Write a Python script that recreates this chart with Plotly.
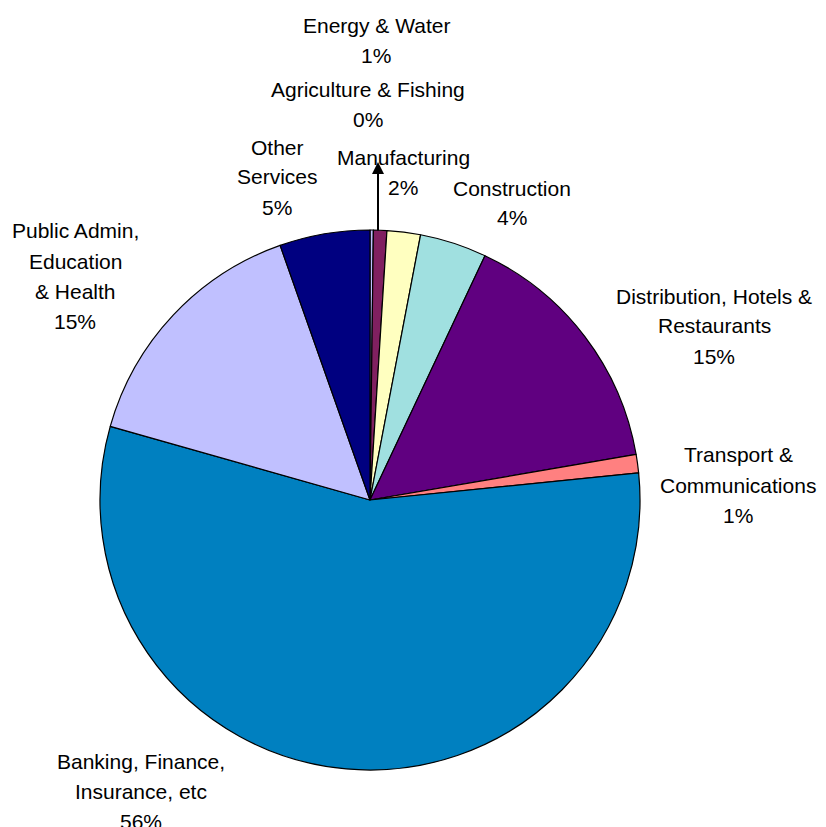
import plotly.graph_objects as go

OFF = 8  # page body margin
W, H = 826 - OFF, 827 - OFF  # figure size fitting the window

sectors = ["Agriculture & Fishing", "Energy & Water", "Manufacturing", "Construction",
           "Distribution, Hotels & Restaurants", "Transport & Communications",
           "Banking, Finance, Insurance, etc", "Public Admin, Education & Health",
           "Other Services"]
shares = [0.2, 0.8, 2.0, 4.0, 15.3, 1.1, 56.0, 15.2, 5.4]
colors = ["#C0C0FF", "#802060", "#FFFFC0", "#A0E0E0", "#600080", "#FF8080",
          "#0080C0", "#C0C0FF", "#000080"]

# label line breaks (display form of sector names)
label_lines = [
    ["Agriculture & Fishing"],
    ["Energy & Water"],
    ["Manufacturing"],
    ["Construction"],
    ["Distribution, Hotels &", "Restaurants"],
    ["Transport &", "Communications"],
    ["Banking, Finance,", "Insurance, etc"],
    ["Public Admin,", "Education", "& Health"],
    ["Other", "Services"],
]
# label block placement (page pixel centre x, first line y)
label_pos = [(368, 90), (376, 25), (403, 157), (512, 188), (714, 296),
             (738, 455), (141, 761), (75, 231), (277, 147)]

cx, cy, r = 370 - OFF, 500 - OFF, 270

fig = go.Figure(go.Pie(
    labels=sectors, values=shares, sort=False, direction="clockwise", rotation=0,
    marker=dict(colors=colors, line=dict(color="black", width=1.2)),
    textinfo="none", hoverinfo="label+percent", showlegend=False,
    domain=dict(x=[(cx - r) / W, (cx + r) / W], y=[(H - cy - r) / H, (H - cy + r) / H]),
))

total = sum(shares)
ann = []
LS = 30
for lines, (px, py), v in zip(label_lines, label_pos, shares):
    all_lines = lines + [f"{round(100 * v / total):.0f}%"]
    for i, t in enumerate(all_lines):
        ann.append(dict(x=(px - OFF) / W, y=1 - (py - OFF + i * LS) / H,
                        xref="paper", yref="paper",
                        text=t, showarrow=False, xanchor="center", yanchor="middle",
                        font=dict(family="Liberation Sans, Arial", size=21, color="black")))

# leader arrow from Energy & Water slice
ann.append(dict(x=(378 - OFF) / W, y=1 - (162 - OFF) / H, xref="paper", yref="paper",
                ax=0, ay=70, text="", showarrow=True, arrowhead=2, arrowsize=1.2,
                arrowwidth=2, arrowcolor="black"))

fig.update_layout(width=W, height=H, margin=dict(l=0, r=0, t=0, b=0),
                  paper_bgcolor="white", plot_bgcolor="white", annotations=ann)

fig.write_html("out.html")
